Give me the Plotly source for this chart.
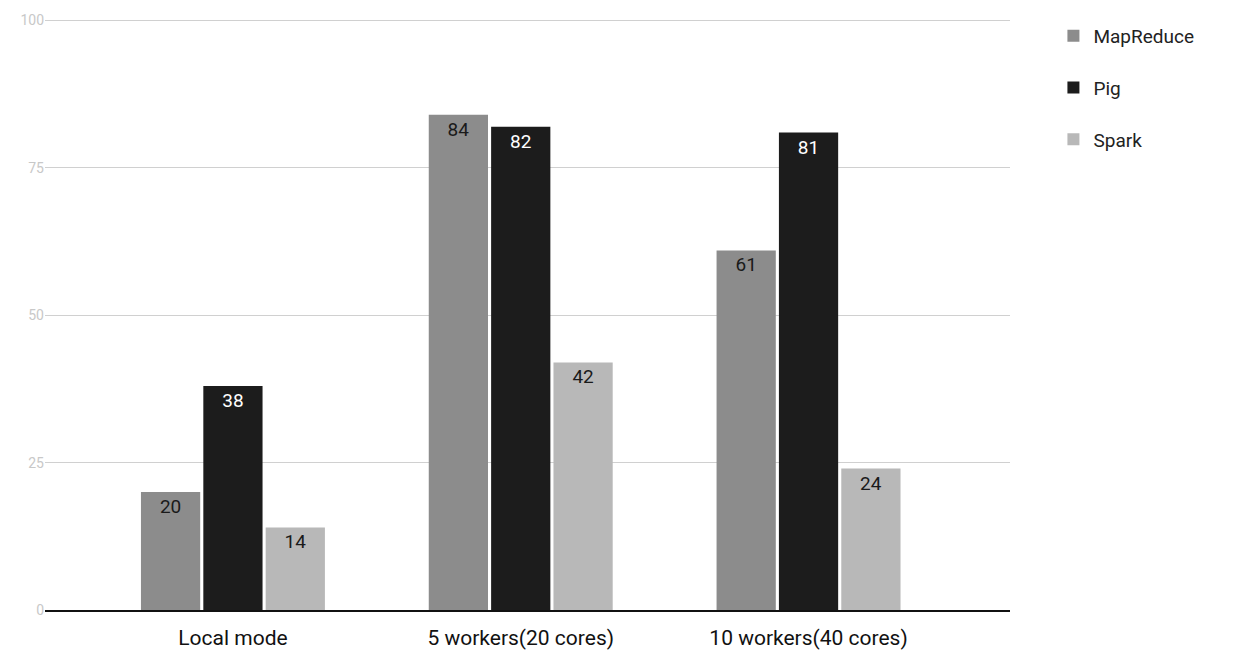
import plotly.graph_objects as go

categories = ["Local mode", "5 workers(20 cores)", "10 workers(40 cores)"]
mapreduce = [20, 84, 61]
pig = [38, 82, 81]
spark = [14, 42, 24]
series_names = ["MapReduce", "Pig", "Spark"]
colors = ["#8c8c8c", "#1c1c1c", "#b8b8b8"]
text_colors = ["#1a1a1a", "#ffffff", "#1a1a1a"]

fig = go.Figure()
for name, vals, col, tc in zip(series_names, [mapreduce, pig, spark], colors, text_colors):
    fig.add_trace(go.Bar(
        name=name, x=categories, y=vals, marker_color=col,
        marker_line_width=0,
        text=[str(v) for v in vals], textposition="inside", insidetextanchor="end",
        textfont=dict(size=19, color=tc, family="Roboto"),
        legendgroup=name,
    ))

fig.update_layout(
    width=1256, height=664,
    margin=dict(l=45, r=246, t=15, b=54),
    plot_bgcolor="white", paper_bgcolor="white",
    barmode="group", bargap=0.35, bargroupgap=0.05,
    font=dict(family="Roboto", color="#222"),
    legend=dict(x=1.045, y=1.0, xanchor="left", yanchor="top",
                font=dict(size=19, color="#222"), tracegroupgap=24),
    xaxis=dict(range=[-0.653, 2.70], showline=True, linecolor="#111", linewidth=2,
               tickfont=dict(size=21, color="#111"), ticks="", ticklabelstandoff=8),
    yaxis=dict(range=[0, 100.6], tickvals=[0, 25, 50, 75, 100],
               gridcolor="#d0d0d0", gridwidth=1, zeroline=False,
               tickfont=dict(size=14, color="#c8c8c8")),
)
fig.write_html("out.html")
